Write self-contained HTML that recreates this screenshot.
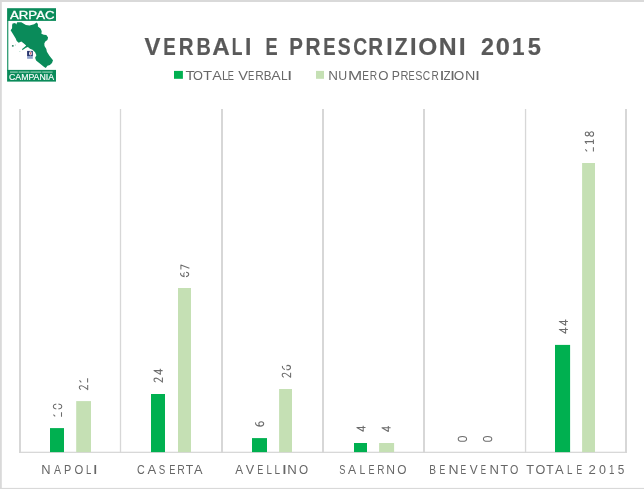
<!DOCTYPE html>
<html><head><meta charset="utf-8">
<style>
html,body{margin:0;padding:0;background:#fff;}
body{width:644px;height:489px;overflow:hidden;}
svg{display:block;will-change:transform;}
text{font-family:"Liberation Sans",sans-serif;}
</style></head>
<body>
<svg width="644" height="489" viewBox="0 0 644 489">
<rect x="0" y="0" width="644" height="489" fill="#ffffff"/>
<!-- frame -->
<rect x="0" y="0" width="644" height="2" fill="#d9d9d9"/>
<rect x="0" y="0" width="1.8" height="489" fill="#d9d9d9"/>
<rect x="0" y="487.9" width="644" height="1.1" fill="#d9d9d9"/>

<g fill="#d7d7d7">
<rect x="19" y="109" width="2.00" height="344"/>
<rect x="119.85" y="109" width="1.30" height="344"/>
<rect x="221" y="109" width="2.00" height="344"/>
<rect x="322" y="109" width="2.00" height="344"/>
<rect x="423" y="109" width="2.00" height="344"/>
<rect x="524.9" y="109" width="1.30" height="344"/>
<rect x="625" y="109" width="2.00" height="344"/>
<rect x="19" y="451.7" width="608" height="1.25"/></g>
<g fill="#00b050"><rect x="50" y="428.1" width="14.0" height="24.0"/><rect x="151" y="394" width="14.0" height="58.1"/><rect x="252" y="438.1" width="15.0" height="14.0"/><rect x="354" y="443" width="13.0" height="9.1"/><rect x="555" y="344.9" width="15.1" height="107.2"/></g>
<g fill="#c5e0b4"><rect x="76.2" y="401.1" width="14.8" height="51.0"/><rect x="178" y="288" width="13.0" height="164.1"/><rect x="279.1" y="389" width="12.9" height="63.1"/><rect x="379.1" y="443" width="15.0" height="9.1"/><rect x="582.1" y="163" width="12.9" height="289.1"/></g>
<rect x="7.1" y="8.2" width="48.9" height="12.7" fill="#0a8b5a"/>
<rect x="7.2" y="20" width="1.1" height="51" fill="#0a8b5a"/>
<rect x="7.1" y="69.9" width="48.9" height="11.7" fill="#0a8b5a"/>
<text x="10.0" y="18.75" font-size="11.3" fill="#ffffff" stroke="#ffffff" stroke-width="0.3" textLength="44.6" lengthAdjust="spacingAndGlyphs">ARPAC</text>
<text x="9.0" y="80.3" font-size="8.5" fill="#ffffff" stroke="#ffffff" stroke-width="0.15" textLength="45.0" lengthAdjust="spacingAndGlyphs">CAMPANIA</text>
<line x1="10" y1="72.1" x2="52.6" y2="72.1" stroke="#bfe5d3" stroke-width="1.7" stroke-dasharray="7.8 0.8 11 0.8 11 0.8 10.4" opacity="0.5"/>
<polygon fill="#0a8b5a" points="12.6,23.6 15.2,23.0 16.2,24.5 17.2,22.2 21.3,22.2 25.9,25.1 29.5,25.6 34.1,24.3 36.6,22.5 37.9,24.1 37.9,26.6 40.7,28.7 41.7,31.2 41.4,33.8 43.8,34.8 46.3,35.0 48.1,37.4 47.4,39.9 45.3,41.5 44.3,43.5 44.5,46.1 46.3,49.1 46.9,51.7 49.4,55.8 53.0,60.2 52.0,62.9 49.9,65.0 47.4,65.7 45.8,68.1 43.8,66.8 41.7,65.0 39.2,63.1 36.1,60.4 35.1,57.8 36.4,55.3 35.1,52.2 32.5,49.7 30.0,48.8 27.9,46.9 25.9,47.8 22.3,50.2 22.1,49.1 24.9,46.8 26.2,45.5 23.3,43.0 21.3,41.5 18.7,42.7 16.7,41.0 15.7,38.4 13.1,34.3 10.6,30.2 12.1,28.2 12.1,25.1"/>
<ellipse cx="12.8" cy="45.9" rx="1.0" ry="0.8" fill="#2a7f60"/>
<ellipse cx="15.4" cy="45.1" rx="0.6" ry="0.5" fill="#9fd0bb"/>
<ellipse cx="19.8" cy="51.4" rx="0.9" ry="0.4" fill="#a9d6c3"/>
<rect x="27.1" y="50.9" width="5.7" height="5.2" fill="#27356e"/>
<ellipse cx="30.5" cy="53.4" rx="1.45" ry="2.1" fill="#f1edf4"/>
<path d="M29.9,52.3 L31.5,52.5 L30.6,55.2 Z" fill="#d84a5a"/>
<rect x="27.1" y="56.0" width="5.7" height="2.8" fill="#8fa1cb"/>
<g font-size="24" font-weight="bold" fill="#595959" stroke="#595959" stroke-width="0.2">
<text transform="translate(144.54,55.3) scale(0.995,1)">V</text><text transform="translate(163.15,55.3) scale(0.780,1)">E</text><text transform="translate(178.73,55.3) scale(0.853,1)">R</text><text transform="translate(196.57,55.3) scale(0.827,1)">B</text><text transform="translate(212.19,55.3) scale(1.012,1)">A</text><text transform="translate(231.73,55.3) scale(0.731,1)">L</text><text transform="translate(245.07,55.3) scale(0.955,1)">I</text><text transform="translate(265.48,55.3) scale(0.758,1)">E</text><text transform="translate(289.13,55.3) scale(0.854,1)">P</text><text transform="translate(305.41,55.3) scale(0.866,1)">R</text><text transform="translate(323.26,55.3) scale(0.772,1)">E</text><text transform="translate(337.64,55.3) scale(0.807,1)">S</text><text transform="translate(353.21,55.3) scale(0.803,1)">C</text><text transform="translate(368.33,55.3) scale(0.853,1)">R</text><text transform="translate(386.27,55.3) scale(0.955,1)">I</text><text transform="translate(394.67,55.3) scale(0.875,1)">Z</text><text transform="translate(410.02,55.3) scale(0.984,1)">I</text><text transform="translate(418.30,55.3) scale(1.019,1)">O</text><text transform="translate(438.64,55.3) scale(1.035,1)">N</text><text transform="translate(458.63,55.3) scale(1.041,1)">I</text><text transform="translate(480.99,55.3) scale(0.969,1)">2</text><text transform="translate(495.69,55.3) scale(1.060,1)">0</text><text transform="translate(512.08,55.3) scale(0.940,1)">1</text><text transform="translate(527.67,55.3) scale(0.988,1)">5</text>
</g>
<rect x="174.0" y="70.9" width="8.9" height="7.9" fill="#00b050"/>
<rect x="316" y="70.9" width="8.0" height="7.9" fill="#c5e0b4"/>
<g font-size="13.6" fill="#686868">
<text transform="translate(185.56,79.7) scale(1.105,1)">T</text><text transform="translate(193.00,79.7) scale(0.937,1)">O</text><text transform="translate(202.97,79.7) scale(1.092,1)">T</text><text transform="translate(212.17,79.7) scale(1.053,1)">A</text><text transform="translate(221.95,79.7) scale(0.850,1)">L</text><text transform="translate(227.84,79.7) scale(0.678,1)">E</text><text transform="translate(238.34,79.7) scale(1.072,1)">V</text><text transform="translate(248.03,79.7) scale(0.692,1)">E</text><text transform="translate(255.33,79.7) scale(0.867,1)">R</text><text transform="translate(263.64,79.7) scale(0.857,1)">B</text><text transform="translate(271.27,79.7) scale(1.042,1)">A</text><text transform="translate(280.91,79.7) scale(0.884,1)">L</text><text transform="translate(287.02,79.7) scale(1.419,1)">I</text>
<text transform="translate(328.30,79.7) scale(0.987,1)">N</text><text transform="translate(338.35,79.7) scale(0.906,1)">U</text><text transform="translate(347.90,79.7) scale(1.253,1)">M</text><text transform="translate(362.37,79.7) scale(0.746,1)">E</text><text transform="translate(369.66,79.7) scale(0.755,1)">R</text><text transform="translate(378.28,79.7) scale(0.969,1)">O</text><text transform="translate(391.80,79.7) scale(0.898,1)">P</text><text transform="translate(400.39,79.7) scale(0.817,1)">R</text><text transform="translate(408.44,79.7) scale(0.678,1)">E</text><text transform="translate(415.21,79.7) scale(0.792,1)">S</text><text transform="translate(422.78,79.7) scale(0.755,1)">C</text><text transform="translate(431.57,79.7) scale(0.743,1)">R</text><text transform="translate(439.62,79.7) scale(1.340,1)">I</text><text transform="translate(443.53,79.7) scale(0.859,1)">Z</text><text transform="translate(450.02,79.7) scale(1.340,1)">I</text><text transform="translate(453.86,79.7) scale(0.991,1)">O</text><text transform="translate(465.03,79.7) scale(1.053,1)">N</text><text transform="translate(474.92,79.7) scale(1.340,1)">I</text>
</g>
<g font-size="12" fill="#666666">
<text transform="translate(41.14,473.7) scale(1.074,1)">N</text><text transform="translate(53.88,473.7) scale(0.880,1)">A</text><text transform="translate(64.11,473.7) scale(0.908,1)">P</text><text transform="translate(74.47,473.7) scale(0.940,1)">O</text><text transform="translate(85.92,473.7) scale(0.794,1)">L</text><text transform="translate(92.82,473.7) scale(1.519,1)">I</text>
<text transform="translate(137.05,473.7) scale(0.895,1)">C</text><text transform="translate(147.47,473.7) scale(1.093,1)">A</text><text transform="translate(158.86,473.7) scale(0.811,1)">S</text><text transform="translate(169.14,473.7) scale(0.769,1)">E</text><text transform="translate(177.14,473.7) scale(0.870,1)">R</text><text transform="translate(185.73,473.7) scale(1.017,1)">T</text><text transform="translate(194.07,473.7) scale(1.068,1)">A</text>
<text transform="translate(235.18,473.7) scale(0.980,1)">A</text><text transform="translate(245.84,473.7) scale(1.051,1)">V</text><text transform="translate(257.26,473.7) scale(0.753,1)">E</text><text transform="translate(266.50,473.7) scale(0.813,1)">L</text><text transform="translate(274.48,473.7) scale(0.832,1)">L</text><text transform="translate(281.82,473.7) scale(1.608,1)">I</text><text transform="translate(287.31,473.7) scale(1.104,1)">N</text><text transform="translate(299.04,473.7) scale(0.977,1)">O</text>
<text transform="translate(339.28,473.7) scale(0.767,1)">S</text><text transform="translate(348.08,473.7) scale(1.018,1)">A</text><text transform="translate(359.44,473.7) scale(0.869,1)">L</text><text transform="translate(368.56,473.7) scale(0.753,1)">E</text><text transform="translate(377.18,473.7) scale(0.828,1)">R</text><text transform="translate(386.30,473.7) scale(1.014,1)">N</text><text transform="translate(397.24,473.7) scale(0.989,1)">O</text>
<text transform="translate(429.37,473.7) scale(0.846,1)">B</text><text transform="translate(439.59,473.7) scale(0.723,1)">E</text><text transform="translate(448.45,473.7) scale(1.164,1)">N</text><text transform="translate(460.60,473.7) scale(0.707,1)">E</text><text transform="translate(469.75,473.7) scale(0.988,1)">V</text><text transform="translate(480.85,473.7) scale(0.661,1)">E</text><text transform="translate(489.43,473.7) scale(1.089,1)">N</text><text transform="translate(500.62,473.7) scale(1.032,1)">T</text><text transform="translate(510.09,473.7) scale(0.891,1)">O</text>
<text transform="translate(526.21,473.7) scale(1.061,1)">T</text><text transform="translate(535.60,473.7) scale(1.050,1)">O</text><text transform="translate(546.23,473.7) scale(1.002,1)">T</text><text transform="translate(554.97,473.7) scale(1.081,1)">A</text><text transform="translate(567.00,473.7) scale(0.813,1)">L</text><text transform="translate(576.50,473.7) scale(0.707,1)">E</text><text transform="translate(588.54,473.7) scale(1.098,1)">2</text><text transform="translate(598.91,473.7) scale(1.046,1)">0</text><text transform="translate(608.96,473.7) scale(0.812,1)">1</text><text transform="translate(617.73,473.7) scale(0.984,1)">5</text>
</g>
<g fill="none" stroke="#6c6c6c" stroke-width="1.05" stroke-linejoin="round" stroke-linecap="butt">
<path d="M55.20,416.45 L53.40,414.55 M61.50,416.65 L61.50,412.25"/>
<path d="M53.35,406.45 C53.35,408.25 55.45,408.85 57.55,408.85 C59.65,408.85 61.75,408.25 61.75,406.45 C61.75,404.65 59.65,404.05 57.55,404.05 C55.45,404.05 53.35,404.65 53.35,406.45 Z"/>
<path d="M81.00,389.55 C79.70,389.15 79.30,388.35 79.30,387.55 C79.30,386.35 80.20,385.65 81.40,385.65 C83.40,385.65 85.40,387.95 87.70,389.65 L87.70,385.05"/>
<path d="M81.30,382.35 L79.50,380.45 M87.60,382.55 L87.60,378.15"/>
<path d="M155.70,382.00 C154.40,381.60 154.00,380.80 154.00,380.00 C154.00,378.80 154.90,378.10 156.10,378.10 C158.10,378.10 160.10,380.40 162.40,382.10 L162.40,377.50"/>
<path d="M162.60,370.60 L154.00,370.60 L160.30,374.40 L160.30,368.80"/>
<path d="M180.60,272.85 C180.00,275.55 182.60,276.65 185.40,276.65 C187.80,276.65 188.70,275.75 188.70,274.35 C188.70,272.95 187.60,272.25 186.20,272.25 C184.60,272.25 183.80,273.15 183.80,274.35 C183.80,275.45 184.40,276.25 185.20,276.65"/>
<path d="M180.90,269.60 L180.90,265.00 L189.40,268.30"/>
<path d="M255.60,422.30 C255.00,425.00 257.60,426.10 260.40,426.10 C262.80,426.10 263.70,425.20 263.70,423.80 C263.70,422.40 262.60,421.70 261.20,421.70 C259.60,421.70 258.80,422.60 258.80,423.80 C258.80,424.90 259.40,425.70 260.20,426.10"/>
<path d="M283.90,377.15 C282.60,376.75 282.20,375.95 282.20,375.15 C282.20,373.95 283.10,373.25 284.30,373.25 C286.30,373.25 288.30,375.55 290.60,377.25 L290.60,372.65"/>
<path d="M282.40,365.95 C281.80,368.65 284.40,369.75 287.20,369.75 C289.60,369.75 290.50,368.85 290.50,367.45 C290.50,366.05 289.40,365.35 288.00,365.35 C286.40,365.35 285.60,366.25 285.60,367.45 C285.60,368.55 286.20,369.35 287.00,369.75"/>
<path d="M365.50,427.50 L356.90,427.50 L363.20,431.30 L363.20,425.70"/>
<path d="M390.60,427.70 L382.00,427.70 L388.30,431.50 L388.30,425.90"/>
<path d="M458.20,438.90 C458.20,440.70 460.30,441.30 462.40,441.30 C464.50,441.30 466.60,440.70 466.60,438.90 C466.60,437.10 464.50,436.50 462.40,436.50 C460.30,436.50 458.20,437.10 458.20,438.90 Z"/>
<path d="M483.40,438.90 C483.40,440.70 485.50,441.30 487.60,441.30 C489.70,441.30 491.80,440.70 491.80,438.90 C491.80,437.10 489.70,436.50 487.60,436.50 C485.50,436.50 483.40,437.10 483.40,438.90 Z"/>
<path d="M567.90,329.40 L559.30,329.40 L565.60,333.20 L565.60,327.60"/>
<path d="M567.90,321.40 L559.30,321.40 L565.60,325.20 L565.60,319.60"/>
<path d="M587.10,151.35 L585.30,149.45 M593.40,151.55 L593.40,147.15"/>
<path d="M586.70,143.80 L585.10,141.60 L593.40,141.60 M593.40,144.00 L593.40,139.60"/>
<path d="M589.20,133.95 C588.70,135.35 588.00,135.85 587.10,135.85 C586.00,135.85 585.20,135.05 585.20,133.95 C585.20,132.85 586.00,132.05 587.10,132.05 C588.00,132.05 588.70,132.55 589.20,133.95 C589.80,135.55 590.50,136.25 591.50,136.25 C592.80,136.25 593.60,135.25 593.60,133.95 C593.60,132.65 592.80,131.65 591.50,131.65 C590.50,131.65 589.80,132.35 589.20,133.95 Z"/>
</g>
<g fill="#ffffff">
<rect x="56.3" y="402.6" width="2.1" height="7.5"/>
<rect x="184.6" y="270.6" width="1.4" height="7.5"/>
<rect x="285.0" y="363.8" width="1.5" height="7.5"/>
</g>
</svg>
</body></html>
